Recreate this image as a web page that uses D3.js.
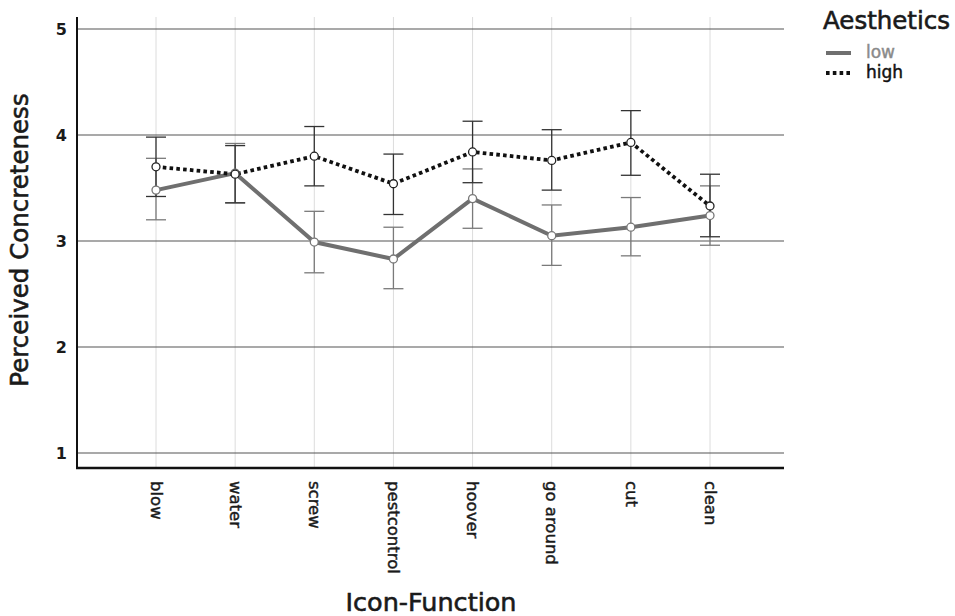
<!DOCTYPE html>
<html>
<head>
<meta charset="utf-8">
<script src="https://cdn.jsdelivr.net/npm/d3@7"></script>
<style>
  html, body { margin: 0; padding: 0; background: #fff; }
  svg { display: block; }
  text { font-family: "DejaVu Sans", "Noto Sans", sans-serif; }
</style>
</head>
<body>
<svg id="chart" width="955" height="616"></svg>
<script>
const categories = ["blow", "water", "screw", "pestcontrol", "hoover", "go around", "cut", "clean"];
const lowMean  = [3.48, 3.64, 2.99, 2.83, 3.40, 3.05, 3.13, 3.24];
const lowUpper = [3.78, 3.92, 3.28, 3.13, 3.68, 3.34, 3.41, 3.52];
const lowLower = [3.20, 3.36, 2.70, 2.55, 3.12, 2.77, 2.86, 2.96];
const highMean  = [3.70, 3.63, 3.80, 3.54, 3.84, 3.76, 3.93, 3.33];
const highUpper = [3.98, 3.90, 4.08, 3.82, 4.13, 4.05, 4.23, 3.63];
const highLower = [3.42, 3.36, 3.52, 3.25, 3.55, 3.48, 3.62, 3.04];
const yTicks = [1, 2, 3, 4, 5];
const seriesNames = ["low", "high"];

const svg = d3.select("#chart");
const pLeft = 77, pRight = 784, pTop = 17, pBottom = 468;
const FONT = "'DejaVu Sans', sans-serif";
const INK = "#1a1a1a";

const x = d3.scalePoint().domain(categories).range([156, 710]);
const y = d3.scaleLinear().domain([1, 5]).range([453, 29]);

const series = [
  { name: "low", mean: lowMean, up: lowUpper, lo: lowLower, color: "#6f6f6f", bar: "#7a7a7a", dash: null, width: 4 },
  { name: "high", mean: highMean, up: highUpper, lo: highLower, color: "#111", bar: "#333", dash: "3.6,3.2", width: 3.8 }
];

function medium(sel, color, w) {
  return sel.attr("stroke", color).attr("stroke-width", w).attr("paint-order", "stroke");
}

// vertical light grid
svg.append("g").selectAll("line").data(categories).join("line")
  .attr("x1", d => x(d)).attr("x2", d => x(d))
  .attr("y1", pTop).attr("y2", pBottom)
  .attr("stroke", "#dcdcdc").attr("stroke-width", 1);

// horizontal grid
svg.append("g").selectAll("line").data(yTicks).join("line")
  .attr("x1", pLeft).attr("x2", pRight)
  .attr("y1", d => y(d)).attr("y2", d => y(d))
  .attr("stroke", "#555").attr("stroke-width", 1.2);

// y axis labels
const yAxis = d3.axisLeft(y).tickValues(yTicks).tickSize(0).tickPadding(10).tickFormat(d3.format("d"));
const gy = svg.append("g").attr("transform", `translate(${pLeft},0)`).call(yAxis);
gy.select(".domain").remove();
gy.selectAll("text").attr("font-size", 16).attr("font-weight", 700).attr("fill", INK)
  .style("font-family", FONT);

// x axis labels
const xAxis = d3.axisBottom(x).tickSize(0).tickPadding(0);
const gx = svg.append("g").attr("transform", `translate(0,${pBottom})`).call(xAxis);
gx.select(".domain").remove();
gx.selectAll("text")
  .attr("transform", "rotate(90)")
  .attr("x", 13).attr("y", 0).attr("dy", "0.35em")
  .attr("text-anchor", "start")
  .attr("font-size", 16.5).attr("font-weight", 400).attr("fill", INK)
  .style("font-family", FONT)
  .call(medium, INK, 0.45);

// axis lines
svg.append("line").attr("x1", pLeft).attr("x2", pLeft).attr("y1", pTop).attr("y2", pBottom + 1)
  .attr("stroke", "#111").attr("stroke-width", 2);
svg.append("line").attr("x1", pLeft - 1).attr("x2", pRight).attr("y1", pBottom).attr("y2", pBottom)
  .attr("stroke", "#111").attr("stroke-width", 2.4);

// error bars
const cap = 10;
series.forEach(s => {
  const g = svg.append("g");
  const idx = d3.range(categories.length);
  g.selectAll("line.v").data(idx).join("line").attr("class", "v")
    .attr("x1", i => x(categories[i])).attr("x2", i => x(categories[i]))
    .attr("y1", i => y(s.up[i])).attr("y2", i => y(s.lo[i]))
    .attr("stroke", s.bar).attr("stroke-width", 1.3);
  g.selectAll("line.t").data(idx).join("line").attr("class", "t")
    .attr("x1", i => x(categories[i]) - cap).attr("x2", i => x(categories[i]) + cap)
    .attr("y1", i => y(s.up[i])).attr("y2", i => y(s.up[i]))
    .attr("stroke", s.bar).attr("stroke-width", 1.3);
  g.selectAll("line.b").data(idx).join("line").attr("class", "b")
    .attr("x1", i => x(categories[i]) - cap).attr("x2", i => x(categories[i]) + cap)
    .attr("y1", i => y(s.lo[i])).attr("y2", i => y(s.lo[i]))
    .attr("stroke", s.bar).attr("stroke-width", 1.3);
});

// lines
const line = d3.line().x((d, i) => x(categories[i])).y(d => y(d));
series.forEach(s => {
  svg.append("path").datum(s.mean).attr("d", line)
    .attr("fill", "none").attr("stroke", s.color).attr("stroke-width", s.width)
    .attr("stroke-dasharray", s.dash);
});

// points
series.forEach(s => {
  svg.append("g").selectAll("circle").data(s.mean).join("circle")
    .attr("cx", (d, i) => x(categories[i])).attr("cy", d => y(d)).attr("r", 4)
    .attr("fill", "#fff").attr("stroke", s.name === "low" ? "#777" : "#222").attr("stroke-width", 1.3);
});

// axis titles
svg.append("text").attr("transform", `translate(28,240) rotate(-90)`)
  .attr("text-anchor", "middle").attr("font-size", 24.5).attr("font-weight", 400).attr("fill", INK)
  .style("font-family", FONT)
  .call(medium, INK, 0.6)
  .text("Perceived Concreteness");
svg.append("text").attr("x", 431).attr("y", 611)
  .attr("text-anchor", "middle").attr("font-size", 25.5).attr("font-weight", 400).attr("fill", INK)
  .style("font-family", FONT)
  .call(medium, INK, 0.6)
  .text("Icon-Function");

// legend
const lg = svg.append("g");
lg.append("text").attr("x", 823).attr("y", 29).attr("font-size", 24.5).attr("font-weight", 400).attr("fill", INK)
  .style("font-family", FONT)
  .call(medium, INK, 0.6)
  .text("Aesthetics");
series.forEach((s, i) => {
  const yy = 53 + i * 20;
  const col = s.name === "low" ? "#8a8a8a" : "#111";
  lg.append("line").attr("x1", 826).attr("x2", 851).attr("y1", yy).attr("y2", yy)
    .attr("stroke", s.color).attr("stroke-width", s.width).attr("stroke-dasharray", s.dash);
  lg.append("text").attr("x", 866).attr("y", yy).attr("dy", "0.3em")
    .attr("font-size", 17).attr("font-weight", 400)
    .attr("fill", col)
    .style("font-family", FONT)
    .call(medium, col, 0.45)
    .text(seriesNames[i]);
});
</script>
</body>
</html>
